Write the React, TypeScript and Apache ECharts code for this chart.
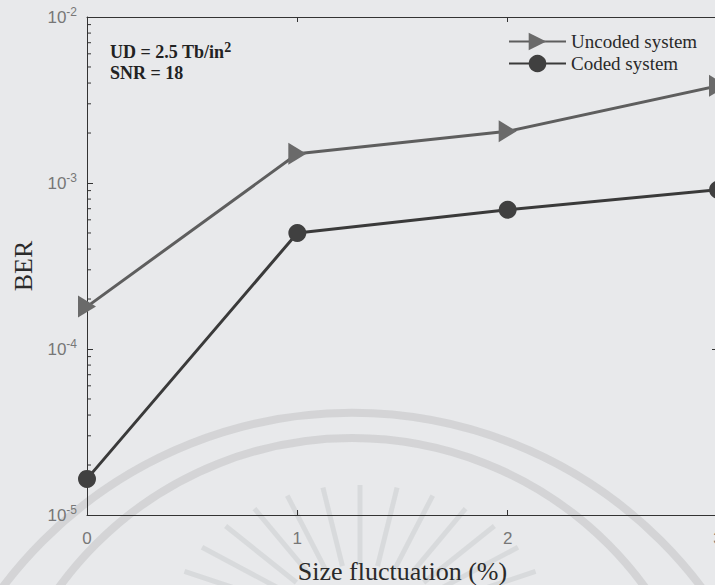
import React, { useEffect, useRef } from "react";
import * as echarts from "echarts";

const xValues = [0, 1, 2, 3];
const uncodedBER = [1.8e-4, 1.5e-3, 2.05e-3, 3.85e-3];
const codedBER = [1.65e-5, 5.0e-4, 6.9e-4, 9.1e-4];
const seriesNames = ["Uncoded system", "Coded system"];
const minorTickValues = [
  2e-5, 3e-5, 4e-5, 5e-5, 6e-5, 7e-5, 8e-5, 9e-5,
  2e-4, 3e-4, 4e-4, 5e-4, 6e-4, 7e-4, 8e-4, 9e-4,
  2e-3, 3e-3, 4e-3, 5e-3, 6e-3, 7e-3, 8e-3, 9e-3,
];
const annotationLines = ["UD = 2.5 Tb/in{s|2}", "SNR = 18"];

const BG = "#e8e9eb";
const SERIF = "'Liberation Serif', 'Times New Roman', serif";
const SANS = "'Liberation Sans', Arial, sans-serif";

export default function App() {
  const ref = useRef<HTMLDivElement>(null);

  useEffect(() => {
    if (!ref.current) return;
    const chart = echarts.init(ref.current, undefined, { renderer: "svg" });

    // faint watermark (scanned logo)
    const wm: any[] = [];
    wm.push({
      type: "arc",
      silent: true,
      z: -10,
      shape: { cx: 352, cy: 850, r: 437, startAngle: Math.PI, endAngle: 2 * Math.PI },
      style: { stroke: "rgba(110,112,115,0.17)", lineWidth: 8, fill: "none" },
    });
    wm.push({
      type: "arc",
      silent: true,
      z: -10,
      shape: { cx: 352, cy: 800, r: 362, startAngle: Math.PI, endAngle: 2 * Math.PI },
      style: { stroke: "rgba(110,112,115,0.17)", lineWidth: 8, fill: "none" },
    });
    const cx = 360, cy = 625;
    for (let i = 0; i <= 16; i++) {
      const ang = Math.PI + (i / 16) * Math.PI;
      const ca = Math.cos(ang), sa = Math.sin(ang);
      const a1 = 90, b1 = 60, a2 = 190, b2 = 140;
      wm.push({
        type: "line",
        silent: true,
        z: -10,
        shape: { x1: cx + a1 * ca, y1: cy + b1 * sa, x2: cx + a2 * ca, y2: cy + b2 * sa },
        style: { stroke: "rgba(110,112,115,0.12)", lineWidth: 5 },
      });
    }

    const option: any = {
      animation: false,
      backgroundColor: BG,
      grid: {
        left: 87,
        top: 17,
        width: 631,
        height: 498,
        containLabel: false,
        outerBoundsMode: "none",
      },
      legend: {
        data: seriesNames,
        orient: "vertical",
        left: 508,
        top: 32,
        itemWidth: 57,
        itemHeight: 22,
        itemGap: 3,
        padding: 0,
        textStyle: { fontFamily: SERIF, fontSize: 19, color: "#2a2a2a" },
      },
      xAxis: [
        {
          type: "value",
          min: 0,
          max: 3,
          interval: 1,
          position: "bottom",
          name: "Size fluctuation (%)",
          nameLocation: "middle",
          nameGap: 43,
          nameTextStyle: { fontFamily: SERIF, fontSize: 26, color: "#2a2a2a" },
          axisLine: { show: true, lineStyle: { color: "#333", width: 1 } },
          axisTick: { show: true, inside: true, length: 5, lineStyle: { color: "#333" } },
          axisLabel: { show: true, margin: 15, fontFamily: SANS, fontSize: 17, color: "#777" },
          splitLine: { show: false },
        },
        {
          type: "value",
          min: 0,
          max: 3,
          interval: 1,
          position: "top",
          axisLine: { show: true, onZero: false, lineStyle: { color: "#333", width: 1 } },
          axisTick: { show: true, inside: true, length: 5, lineStyle: { color: "#333" } },
          axisLabel: { show: false },
          splitLine: { show: false },
        },
      ],
      yAxis: [
        {
          type: "log",
          logBase: 10,
          min: 1e-5,
          max: 1e-2,
          position: "left",
          name: "BER",
          nameLocation: "middle",
          nameGap: 50,
          nameTextStyle: { fontFamily: SERIF, fontSize: 26, color: "#2a2a2a" },
          axisLine: { show: true, onZero: false, lineStyle: { color: "#333", width: 1 } },
          axisTick: { show: true, inside: true, length: 6, lineStyle: { color: "#333" } },
          axisLabel: {
            show: true,
            margin: 10,
            formatter: (v: number) => `{b|10}{s|${Math.round(Math.log10(v))}}`,
            rich: {
              b: { fontFamily: SANS, fontSize: 17, color: "#777" },
              s: { fontFamily: SANS, fontSize: 12, color: "#777", padding: [0, 0, 10, 0] },
            },
          },
          splitLine: { show: false },
          minorTick: { show: false },
        },
        {
          type: "log",
          logBase: 10,
          min: 1e-5,
          max: 1e-2,
          position: "right",
          axisLine: { show: true, onZero: false, lineStyle: { color: "#333", width: 1 } },
          axisTick: { show: true, inside: true, length: 6 },
          axisLabel: { show: false },
          splitLine: { show: false },
        },
      ],
      series: [
        {
          name: "minor ticks",
          type: "custom",
          silent: true,
          z: 1,
          xAxisIndex: 0,
          yAxisIndex: 0,
          data: minorTickValues.map((v) => [0, v]),
          renderItem: (params: any, api: any) => {
            const p = api.coord([api.value(0), api.value(1)]);
            return {
              type: "line",
              shape: { x1: p[0], y1: p[1], x2: p[0] + 4, y2: p[1] },
              style: { stroke: "#333", lineWidth: 1 },
            };
          },
        },
        {
          name: seriesNames[0],
          type: "line",
          xAxisIndex: 0,
          yAxisIndex: 0,
          data: xValues.map((x, i) => [x, uncodedBER[i]]),
          symbol: "triangle",
          symbolSize: [22, 18],
          symbolRotate: -90,
          showSymbol: true,
          clip: false,
          z: 3,
          lineStyle: { color: "#5e5e5e", width: 3 },
          itemStyle: { color: "#6a6a6a" },
        },
        {
          name: seriesNames[1],
          type: "line",
          xAxisIndex: 0,
          yAxisIndex: 0,
          data: xValues.map((x, i) => [x, codedBER[i]]),
          symbol: "circle",
          symbolSize: 18,
          showSymbol: true,
          clip: false,
          z: 4,
          lineStyle: { color: "#3a3a3a", width: 3 },
          itemStyle: { color: "#404040" },
        },
      ],
      graphic: [
        ...wm,
        {
          type: "text",
          left: 110,
          top: 40,
          silent: true,
          style: {
            text: annotationLines.join("\n"),
            fontFamily: SERIF,
            fontWeight: "bold",
            fontSize: 18,
            lineHeight: 21,
            fill: "#222",
            rich: {
              s: { fontFamily: SERIF, fontWeight: "bold", fontSize: 14, fill: "#222", padding: [0, 0, 10, 0] },
            },
          },
        },
      ],
    };

    chart.setOption(option);
    return () => chart.dispose();
  }, []);

  return (
    <div
      ref={ref}
      style={{ position: "fixed", left: 0, top: 0, width: 715, height: 585, background: BG }}
    />
  );
}
